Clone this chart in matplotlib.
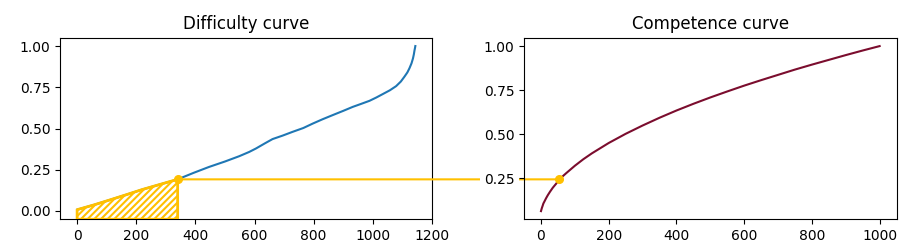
import matplotlib

matplotlib.use("Agg")
import numpy as np
import matplotlib.pyplot as plt
from matplotlib.patches import ConnectionPatch
from matplotlib.transforms import blended_transform_factory

# difficulty curve (sorted sample difficulties)
diff_x = [0, 55, 107, 165, 220, 280, 340, 395, 446, 500, 548, 582, 605, 635,
          661, 695, 729, 765, 797, 830, 864, 900, 932, 960, 989, 1012, 1034,
          1058, 1079, 1095, 1107, 1117, 1124, 1131, 1136, 1139, 1141, 1143, 1144]
diff_y = [0.008, 0.036, 0.065, 0.098, 0.13, 0.161, 0.192, 0.232, 0.267, 0.300,
          0.332, 0.358, 0.379, 0.410, 0.436, 0.457, 0.48, 0.503, 0.53, 0.556,
          0.581, 0.607, 0.631, 0.649, 0.668, 0.688, 0.709, 0.732, 0.757, 0.785,
          0.814, 0.840, 0.865, 0.895, 0.925, 0.950, 0.972, 0.990, 1.0]

# competence curve
comp_x = [0, 1, 2, 3, 5, 7, 10, 15, 20, 27, 35, 45, 54, 75, 100, 125, 150,
          200, 250, 300, 350, 400, 450, 500, 550, 600, 650, 700, 750, 800,
          850, 900, 950, 1000]
comp_y = [0.065, 0.072, 0.079, 0.085, 0.096, 0.108, 0.119, 0.138, 0.155,
          0.176, 0.198, 0.221, 0.245, 0.281, 0.322, 0.359, 0.392, 0.451,
          0.503, 0.550, 0.594, 0.635, 0.673, 0.709, 0.743, 0.776, 0.807,
          0.837, 0.867, 0.895, 0.922, 0.949, 0.975, 1.0]

# the marked step on both curves
cut_diff = (340, 0.192)
cut_comp = (54, 0.245)

gold = "#ffc000"
plt.rcParams["hatch.linewidth"] = 1.5

fig = plt.figure(figsize=(9.13, 2.52), dpi=100)
ax1 = fig.add_axes([0.0657, 0.130, 0.408, 0.720])
ax2 = fig.add_axes([0.574, 0.130, 0.408, 0.720])

# --- difficulty ---
ax1.plot(diff_x, diff_y, color="#1f77b4", lw=1.5)
dx = np.array(diff_x)
dy = np.array(diff_y)
mask = dx <= cut_diff[0]
ax1.fill_between(dx[mask], dy[mask], -0.05, facecolor="none", edgecolor=gold,
                 hatch="/////", lw=2, zorder=3)
ax1.plot([cut_diff[0]], [cut_diff[1]], "o", color=gold, ms=5.5, zorder=4,
         clip_on=False)
ax1.set_xlim(-58, 1202)
ax1.set_ylim(-0.05, 1.05)
ax1.set_xticks(np.arange(0, 1201, 200))
ax1.set_yticks([0, 0.25, 0.5, 0.75, 1.0])
ax1.set_title("Difficulty curve", fontsize=12)

# --- competence ---
ax2.plot(comp_x, comp_y, color="#7b0d2e", lw=1.5)
ax2.plot([cut_comp[0]], [cut_comp[1]], "o", color=gold, ms=5.5, zorder=4)
ax2.set_xlim(-50, 1050)
ax2.set_ylim(0.019, 1.047)
ax2.set_xticks(np.arange(0, 1001, 200))
ax2.set_yticks([0.25, 0.5, 0.75, 1.0])
ax2.set_title("Competence curve", fontsize=12)
for lab in ax2.get_yticklabels():
    lab.set_bbox(dict(facecolor="white", edgecolor="none", pad=3))

# horizontal link at the competence level
start_tr = blended_transform_factory(ax1.transData, ax2.transData)
con = ConnectionPatch(xyA=(cut_diff[0], cut_comp[1]), coordsA=start_tr,
                      xyB=cut_comp, coordsB=ax2.transData,
                      color=gold, lw=1.5)
con.set_clip_on(False)
con.set_zorder(1)
ax2.add_artist(con)

fig.savefig("out.png", dpi=100)
